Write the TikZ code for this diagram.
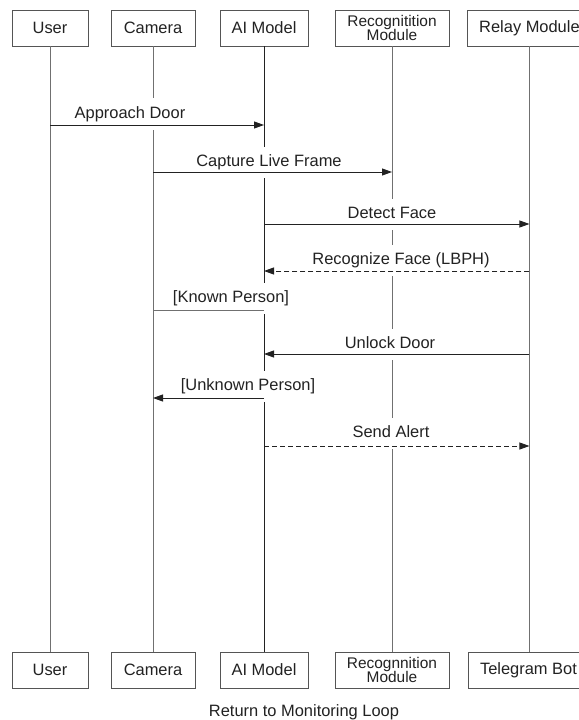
\documentclass[tikz,border=0pt]{standalone}
\usepackage{fontspec}
\setmainfont{Liberation Sans}
\usetikzlibrary{arrows.meta}
\definecolor{boxgray}{HTML}{555555}
\definecolor{lifegray}{HTML}{707070}
\definecolor{ink}{HTML}{222222}
\begin{document}
\begin{tikzpicture}[x=1bp,y=-1bp,
  actor/.style={draw=boxgray, line width=0.9bp, fill=white, minimum height=36bp,
    inner sep=2bp, font=\fontsize{16.5}{18}\selectfont, align=center, text=ink},
  actortwo/.style={actor, font=\fontsize{15.5}{14.5}\selectfont},
  life/.style={draw=lifegray, line width=0.9bp},
  lifeai/.style={draw=ink, line width=0.95bp},
  lbl/.style={fill=white, inner xsep=1bp, inner ysep=8bp, text height=12bp, text depth=3bp,
    font=\fontsize{16.5}{18}\selectfont, text=ink},
  msg/.style={draw=ink, line width=0.9bp, -{Triangle[length=10bp,width=7bp]}},
  reply/.style={msg, dash pattern=on 5bp off 3bp},
  plain/.style={draw=lifegray, line width=0.9bp}
]
\useasboundingbox (0,0) rectangle (579,720);
\fill[white] (0,0) rectangle (579,720);

% top actors
\node[actor, minimum width=76bp] (uT) at (50,28) {User};
\node[actor, minimum width=84bp] (cT) at (153,28) {Camera};
\node[actor, minimum width=88bp] (aT) at (264,28) {AI Model};
\node[actortwo, minimum width=114bp] (rT) at (392,28) {Recognitition\\Module};
\node[actor, minimum width=124bp, anchor=west] (yT) at (467,28) {Relay Module};

% bottom actors
\node[actor, minimum width=76bp] (uB) at (50,670) {User};
\node[actor, minimum width=84bp] (cB) at (153,670) {Camera};
\node[actor, minimum width=88bp] (aB) at (264,670) {AI Model};
\node[actortwo, minimum width=114bp] (rB) at (392,670) {Recognnition\\Module};
\node[actor, minimum width=120bp, anchor=west] (yB) at (468,670) {Telegram Bot};

% lifelines
\draw[life] (uT) -- (uB);
\draw[life] (cT) -- (cB);
\draw[lifeai] (aT) -- (aB);
\draw[life] (rT) -- (rB);
\draw[life] (yT.south) -- (yT.south |- yB.north);

% message rows
\coordinate (m1) at (0,125);
\coordinate (m2) at (0,172);
\coordinate (m3) at (0,224);
\coordinate (m4) at (0,271);
\coordinate (m5) at (0,310);
\coordinate (m6) at (0,354);
\coordinate (m7) at (0,398);
\coordinate (m8) at (0,446);

% labels
\node[lbl] (l1) at (130,114) {Approach Door};
\node[lbl] (l2) at (269,162) {Capture Live Frame};
\node[lbl] (l3) at (392,214) {Detect Face};
\node[lbl] (l4) at (401,260) {Recognize Face (LBPH)};
\node[lbl] (l5) at (231,298) {[Known Person]};
\node[lbl] (l6) at (390,344) {Unlock Door};
\node[lbl] (l7) at (248,386) {[Unknown Person]};
\node[lbl] (l8) at (391,433) {Send Alert};

% messages
\draw[msg] (uT |- m1) -- (aT |- m1);
\draw[msg] (cT |- m2) -- (rT |- m2);
\draw[msg] (aT |- m3) -- (yT.south |- m3);
\draw[reply] (yT.south |- m4) -- (aT |- m4);
\draw[plain] (cT |- m5) -- (aT |- m5);
\draw[msg] (yT.south |- m6) -- (aT |- m6);
\draw[msg] (aT |- m7) -- (cT |- m7);
\draw[reply] (aT |- m8) -- (yT.south |- m8);

\node[font=\fontsize{16.5}{18}\selectfont, text=ink] (loop) at (304,712) {Return to Monitoring Loop};
\end{tikzpicture}
\end{document}
